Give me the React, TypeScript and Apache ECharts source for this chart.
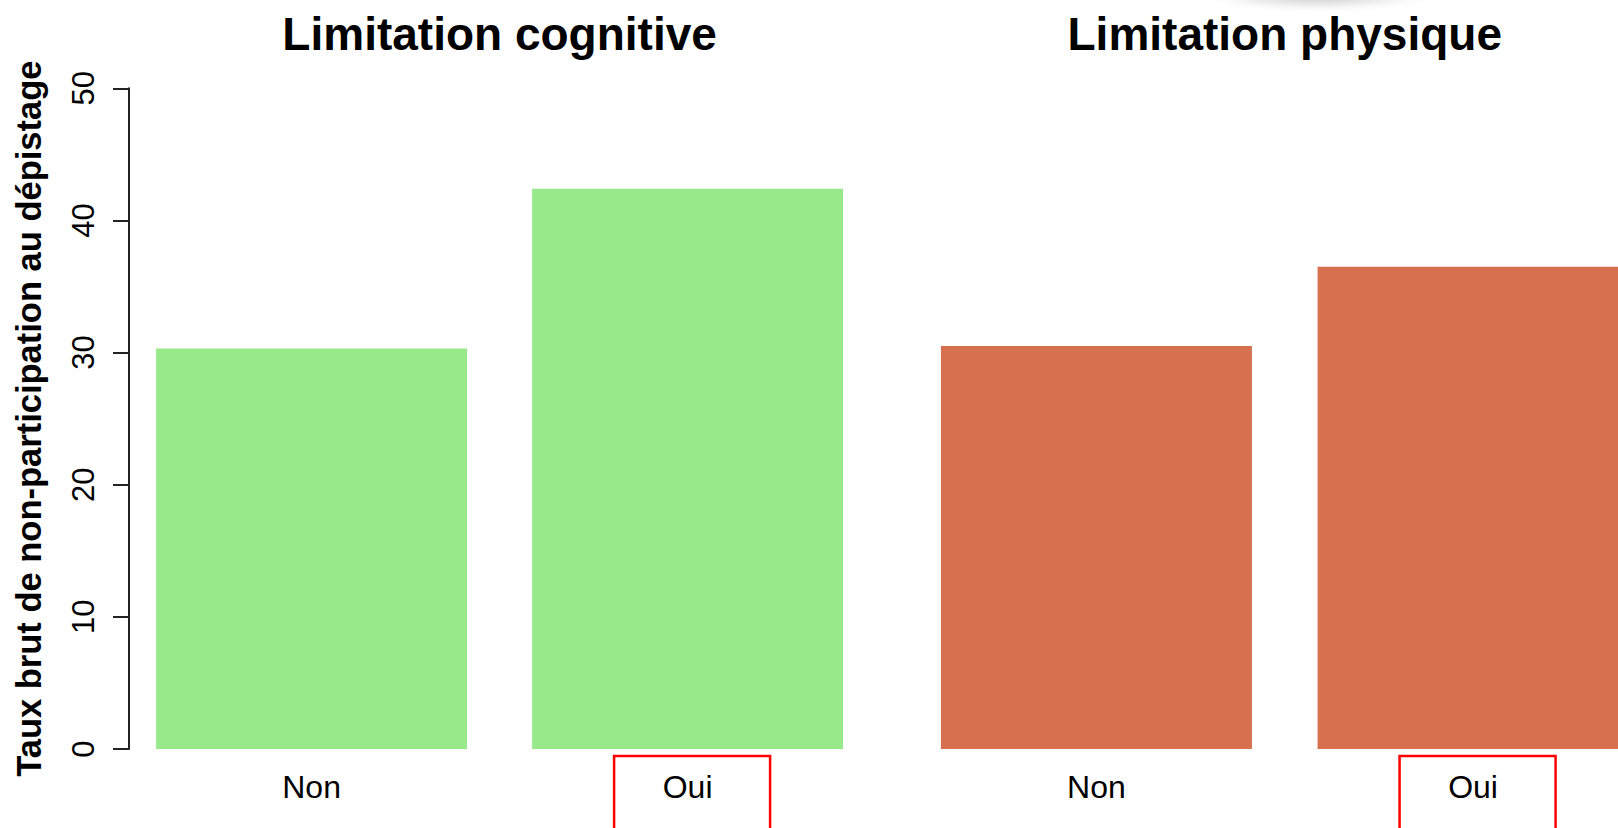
import React, { useEffect, useRef } from "react";
import * as echarts from "echarts";

// ---- Data ----
const categories = ["Non", "Oui"];
const highlightedCategories = ["Oui"];
const panelTitles = ["Limitation cognitive", "Limitation physique"];
const cognitiveValues = [30.3, 42.4];
const physiqueValues = [30.5, 36.5];
const yMin = 0;
const yMax = 50;
const yInterval = 10;
const yAxisTitle = "Taux brut de non-participation au dépistage";

// ---- Styles / layout ----
const H = 828;
const CANVAS_W = 1700; // wider than the page: the last bar is cut by the page edge
const FONT = "'Liberation Sans', Arial, Helvetica, sans-serif";
const GREEN = "#97E98A";
const ORANGE = "#D6704F";
const gridTop = 88.3;
const gridBottom = 79;
const panels = [
  { left: 123.6, width: 752 },
  { left: 908.1, width: 753.3 },
];

export default function App() {
  const ref = useRef<HTMLDivElement>(null);

  useEffect(() => {
    if (!ref.current) return;
    document.documentElement.style.overflow = "hidden";
    const chart = echarts.init(ref.current, undefined, { renderer: "svg" });

    const xAxisFor = (gi: number) => ({
      type: "category",
      gridIndex: gi,
      data: categories,
      axisLine: { show: false },
      axisTick: { show: false },
      axisLabel: {
        interval: 0,
        margin: 22,
        fontSize: 32,
        fontFamily: FONT,
        color: "#000",
      },
    });

    // red annotation boxes around highlighted category labels
    const boxes: any[] = [];
    panels.forEach((p) => {
      const band = p.width / categories.length;
      categories.forEach((c, ci) => {
        if (!highlightedCategories.includes(c)) return;
        const cx = p.left + band * (ci + 0.5);
        boxes.push({
          type: "rect",
          silent: true,
          z: 10,
          shape: { x: cx - 73.5, y: 756, width: 156, height: 120 },
          style: { fill: "none", stroke: "#FF0000", lineWidth: 2.5 },
        });
      });
    });

    const option: any = {
      animation: false,
      backgroundColor: "#ffffff",
      grid: panels.map((p) => ({
        left: p.left,
        width: p.width,
        top: gridTop,
        bottom: gridBottom,
        containLabel: false,
      })),
      xAxis: [xAxisFor(0), xAxisFor(1)],
      yAxis: [
        {
          type: "value",
          gridIndex: 0,
          min: yMin,
          max: yMax,
          interval: yInterval,
          offset: -5.4,
          splitLine: { show: false },
          axisLine: { show: true, lineStyle: { color: "#222", width: 2 } },
          axisTick: {
            show: true,
            length: 16,
            lineStyle: { color: "#222", width: 2 },
          },
          axisLabel: {
            rotate: 90,
            margin: 30,
            fontSize: 31,
            fontFamily: FONT,
            color: "#000",
          },
          name: yAxisTitle,
          nameLocation: "middle",
          nameRotate: 90,
          nameGap: 83,
          nameTextStyle: {
            fontSize: 34.5,
            fontWeight: "bold",
            fontFamily: FONT,
            color: "#000",
          },
        },
        {
          type: "value",
          gridIndex: 1,
          min: yMin,
          max: yMax,
          interval: yInterval,
          show: false,
          splitLine: { show: false },
        },
      ],
      series: [
        {
          type: "bar",
          xAxisIndex: 0,
          yAxisIndex: 0,
          data: cognitiveValues,
          barWidth: 311,
          itemStyle: { color: GREEN },
        },
        {
          type: "bar",
          xAxisIndex: 1,
          yAxisIndex: 1,
          data: physiqueValues,
          barWidth: 311,
          itemStyle: { color: ORANGE },
        },
      ],
      graphic: [
        {
          type: "ellipse",
          shape: { cx: 1318, cy: -8, rx: 130, ry: 22 },
          silent: true,
          style: {
            fill: new echarts.graphic.RadialGradient(0.5, 0.5, 0.5, [
              { offset: 0, color: "rgba(110,110,110,0.55)" },
              { offset: 0.6, color: "rgba(170,170,170,0.22)" },
              { offset: 1, color: "rgba(255,255,255,0)" },
            ]),
          },
        },
        ...panels.map((p, i) => ({
          type: "text",
          x: p.left + p.width / 2,
          y: 33.5,
          style: {
            text: panelTitles[i],
            fill: "#000",
            font: `bold 46px ${FONT}`,
            textAlign: "center",
            textVerticalAlign: "middle",
          },
        })),
        ...boxes,
      ],
    };

    chart.setOption(option);
    return () => chart.dispose();
  }, []);

  return (
    <div
      ref={ref}
      style={{ position: "fixed", left: 0, top: 0, width: CANVAS_W, height: H }}
    />
  );
}
